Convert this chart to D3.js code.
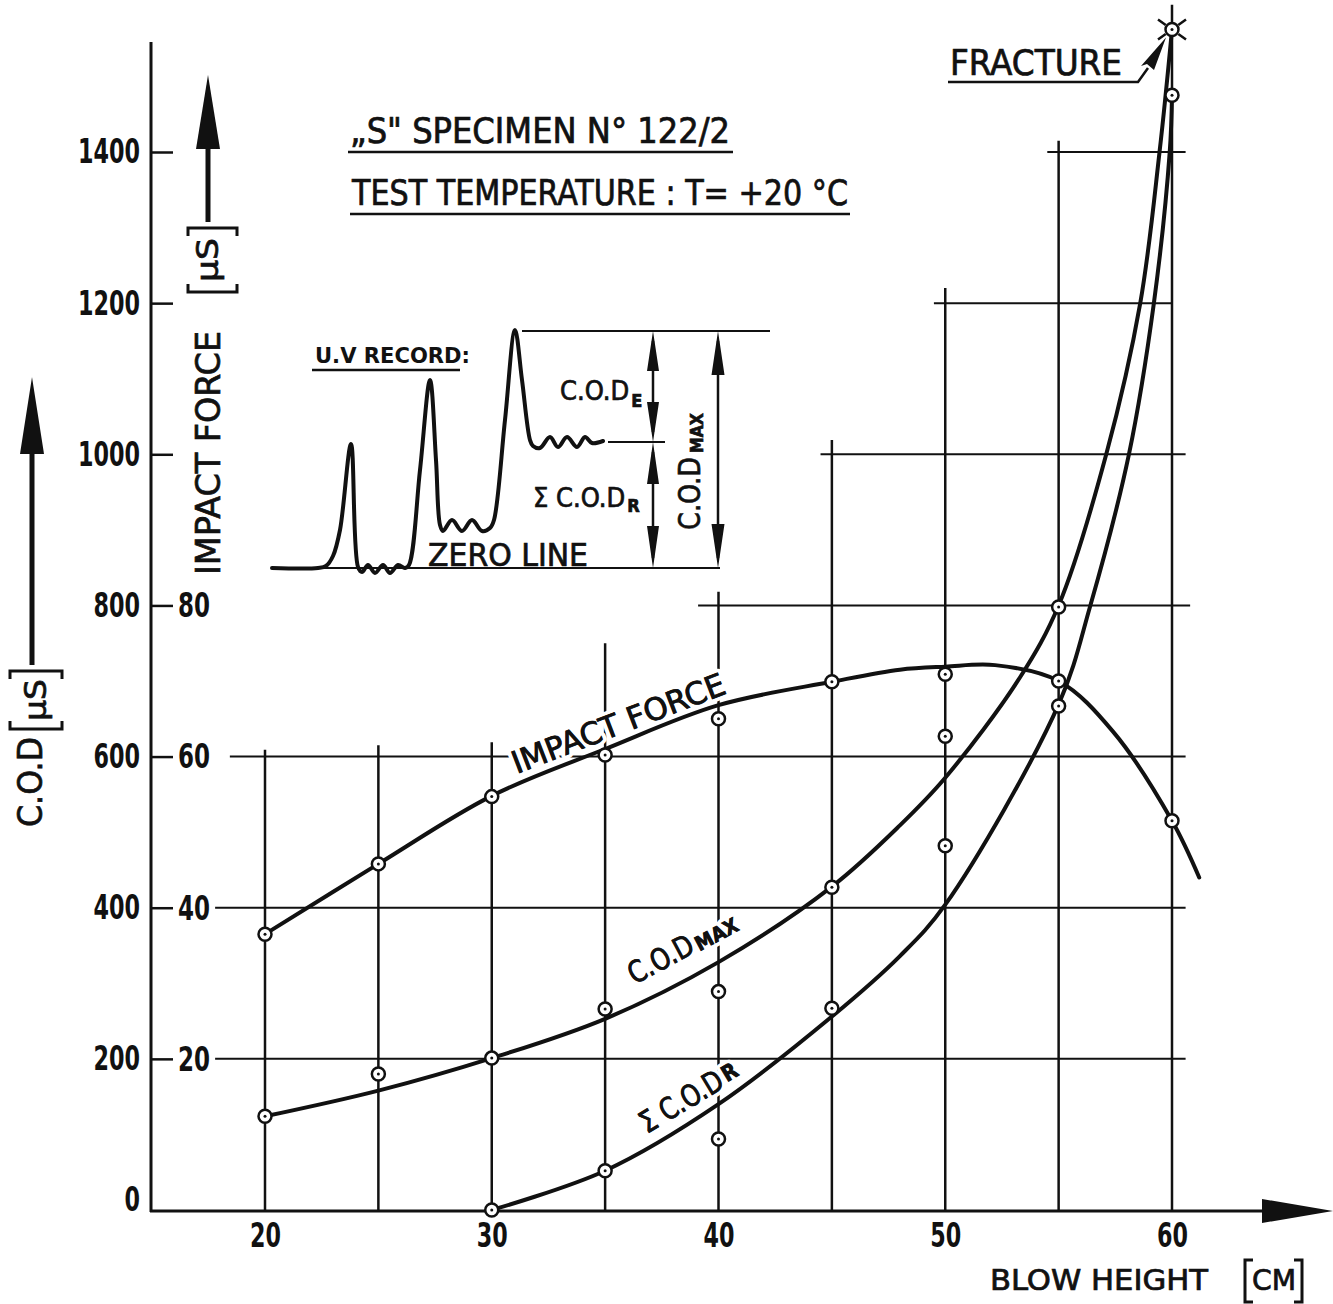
<!DOCTYPE html>
<html lang="en">
<head>
<meta charset="utf-8">
<title>S specimen 122/2 - C.O.D and impact force</title>
<script src="https://cdn.jsdelivr.net/npm/d3@7"></script>
<style>
  body { margin: 0; background: #fff; }
  svg { display: block; }
  text {
    font-family: "Liberation Sans Narrow", "DejaVu Sans Condensed", "Arial Narrow", sans-serif;
    fill: #111;
  }
  .ink { stroke: #111; fill: none; }
  .med { stroke: #111; stroke-width: 0.7; }
  .grid line { stroke: #111; stroke-width: 2; }
  .curve { fill: none; stroke: #111; stroke-width: 4; stroke-linecap: round; }
  .pt { fill: #fff; stroke: #111; stroke-width: 2.5; }
  .halo { paint-order: stroke; stroke: #fff; stroke-width: 8; stroke-linejoin: round; }
</style>
</head>
<body>
<svg id="chart" width="1333" height="1304"></svg>
<script>
// blow heights (cm)
const heights = [20, 25, 30, 35, 40, 45, 50, 55, 60];
// measured points
const impactForce = [36.5, 45.8, 54.7, 60.2, 65.0, 69.9, 70.9, 70.0, 51.5];
const codMax = [124, 180, 201, 266, 289, 427, 627, 798, null]; // at 60 cm -> fracture
const sumCodR = [null, null, 0, 52, 94, 267, 482, 667, 1475];
const fracture = [60, 1562];

// faired curves
const impactCurve = [[20, 36.5], [25, 45.8], [30, 54.8], [35, 61.0], [40, 66.8], [45, 69.9], [48, 71.5],
  [50, 71.9], [52.2, 72.1], [55, 70.0], [57.4, 63.3], [60, 51.5], [61.2, 44.0]];
const codMaxCurve = [[20, 124], [25, 158], [30, 201], [35, 253], [40, 328], [45, 428], [48, 509],
  [50, 572], [53.3, 705], [55, 800], [57.1, 1000], [58.6, 1200], [59.45, 1400], [60, 1562]];
const sumCodRCurve = [[30, 0], [35, 52], [40, 140], [45, 256], [48, 336], [50, 404], [55, 669],
  [56.4, 800], [58.1, 1000], [59.2, 1200], [59.9, 1400], [60, 1475]];

// ticks
const yTicks = [0, 200, 400, 600, 800, 1000, 1200, 1400];
const forceTicks = [20, 40, 60, 80];
const xTicks = [20, 30, 40, 50, 60];

// drafting grid (staircase): top of each vertical, span of each horizontal
const vGridTop = [609, 615, 619, 750, 818, 1019, 1220, 1415, 1595];
const hLevels = [200, 400, 600, 800, 1000, 1200, 1400];
const hFrom = [17.8, 17.8, 18.45, 39.1, 44.5, 49.5, 54.5];
const hTo = [60.6, 60.6, 60.6, 60.8, 60.6, 60.0, 60.6];

// U.V record sketch (arbitrary units: time, deflection)
const uvTrace = [[0, 0], [46, 0], [54, 2], [61, 12], [68, 38], [79, 124], [86, 1], [90, -4], [96, 3],
  [103, -5], [111, 3], [118, -5], [126, 3], [133, 0], [137, 3], [148, 98], [158, 188], [164, 108],
  [168, 43], [171, 37], [180, 48], [190, 37], [200, 48], [210, 37], [218, 40], [222, 48], [233, 148],
  [243, 238], [250, 188], [258, 128], [261, 122], [268, 120], [278, 131], [286, 121], [295, 131],
  [305, 121], [313, 131], [320, 125], [331, 127]];
const uvPeak = 237, uvResidual = 126;

const svg = d3.select('#chart');
const x = d3.scaleLinear().domain([20, 60]).range([265, 1172]);
const y = d3.scaleLinear().domain([0, 1400]).range([1210, 152]);
const yF = d3.scaleLinear().domain([0, 140]).range([1210, 152]);

// grid
const grid = svg.append('g').attr('class', 'grid');
grid.selectAll('line.v')
  .data(heights)
  .join('line')
  .attr('class', 'v')
  .attr('x1', d => x(d)).attr('x2', d => x(d))
  .attr('y1', y(0)).attr('y2', (d, i) => y(vGridTop[i]))
  .style('stroke-width', 2.5);
grid.selectAll('line.h')
  .data(hLevels)
  .join('line')
  .attr('class', 'h')
  .attr('x1', (d, i) => x(hFrom[i])).attr('x2', (d, i) => x(hTo[i]))
  .attr('y1', d => y(d)).attr('y2', d => y(d));

// axes
svg.append('line').attr('class', 'ink').attr('x1', 151).attr('x2', 151)
  .attr('y1', 42).attr('y2', 1212).style('stroke-width', 3);
svg.append('line').attr('class', 'ink').attr('x1', 150).attr('x2', 1266)
  .attr('y1', 1211).attr('y2', 1211).style('stroke-width', 3);
svg.append('path').attr('d', 'M1262,1199 L1333,1211 L1262,1223 Z').style('fill', '#111');

const yAxis = svg.append('g')
  .attr('transform', 'translate(151,0)')
  .call(d3.axisLeft(y).tickValues(yTicks).tickSize(-22).tickPadding(11).tickFormat(d3.format('d')));
yAxis.select('.domain').remove();
yAxis.selectAll('.tick line').style('stroke', '#111').style('stroke-width', 2.5);
yAxis.selectAll('.tick text')
  .style('font-size', '34px').style('font-weight', 'bold')
  .attr('textLength', d => String(d).length * 15.5)
  .attr('lengthAdjust', 'spacingAndGlyphs')
  .attr('y', d => d === 0 ? -10 : 0);
yAxis.selectAll('.tick').filter(d => d === 0).select('line').remove();

svg.append('g').selectAll('text')
  .data(forceTicks)
  .join('text')
  .attr('x', 178)
  .attr('y', d => yF(d))
  .attr('dy', '0.35em')
  .style('font-size', '34px').style('font-weight', 'bold')
  .attr('textLength', 32).attr('lengthAdjust', 'spacingAndGlyphs')
  .text(d => d);

const xAxis = svg.append('g')
  .attr('transform', 'translate(0,1211)')
  .call(d3.axisBottom(x).tickValues(xTicks).tickSize(0).tickPadding(13));
xAxis.select('.domain').remove();
xAxis.selectAll('.tick text')
  .style('font-size', '33px').style('font-weight', 'bold')
  .attr('textLength', 31).attr('lengthAdjust', 'spacingAndGlyphs');

// axis titles
svg.append('text').attr('class', 'med').attr('x', 990).attr('y', 1290)
  .style('font-size', '29px').attr('textLength', 218).attr('lengthAdjust', 'spacingAndGlyphs')
  .text('BLOW HEIGHT');
svg.append('text').attr('class', 'med').attr('x', 1252).attr('y', 1290)
  .style('font-size', '29px').attr('textLength', 44).attr('lengthAdjust', 'spacingAndGlyphs')
  .text('CM');
svg.append('path').attr('class', 'ink').style('stroke-width', 3)
  .attr('d', 'M1253,1260 H1245 V1302 H1253 M1294,1260 H1302 V1302 H1294');

function bracketBox(g, x0, x1, top, bot) {
  g.append('path').attr('class', 'ink').style('stroke-width', 3)
    .attr('d', `M${x0 + 8},${top} H${x0} V${bot} H${x0 + 8} M${x1 - 8},${top} H${x1} V${bot} H${x1 - 8}`);
}

// impact force axis title (vertical)
const fT = svg.append('g').attr('transform', 'translate(220,575) rotate(-90)');
fT.append('text').attr('class', 'med').attr('x', 0).attr('y', 0)
  .style('font-size', '33px').attr('textLength', 244).attr('lengthAdjust', 'spacingAndGlyphs')
  .text('IMPACT FORCE');
bracketBox(fT, 283, 347, -32, 17);
fT.append('text').attr('class', 'med').attr('x', 293).attr('y', -2)
  .style('font-size', '30px').attr('textLength', 44).attr('lengthAdjust', 'spacingAndGlyphs')
  .text('μS');
svg.append('line').attr('class', 'ink').style('stroke-width', 5)
  .attr('x1', 208).attr('x2', 208).attr('y1', 222).attr('y2', 145);
svg.append('path').style('fill', '#111').attr('d', 'M196,149 L220,149 L208,75 Z');

// C.O.D axis title (vertical)
const cT = svg.append('g').attr('transform', 'translate(42,827) rotate(-90)');
cT.append('text').attr('class', 'med').attr('x', 0).attr('y', 0)
  .style('font-size', '33px').attr('textLength', 90).attr('lengthAdjust', 'spacingAndGlyphs')
  .text('C.O.D');
bracketBox(cT, 98, 156, -32, 20);
cT.append('text').attr('class', 'med').attr('x', 106).attr('y', 4)
  .style('font-size', '30px').attr('textLength', 42).attr('lengthAdjust', 'spacingAndGlyphs')
  .text('μS');
svg.append('line').attr('class', 'ink').style('stroke-width', 5)
  .attr('x1', 32).attr('x2', 32).attr('y1', 665).attr('y2', 450);
svg.append('path').style('fill', '#111').attr('d', 'M20,454 L44,454 L32,377 Z');

// titles
const titles = [
  { text: '„S"  SPECIMEN  N°  122/2', x: 350, y: 143, len: 380, ux: [348, 733] },
  { text: 'TEST  TEMPERATURE : T= +20 °C', x: 352, y: 205, len: 496, ux: [350, 850] }
];
titles.forEach(t => {
  svg.append('text').attr('class', 'med').attr('x', t.x).attr('y', t.y)
    .style('font-size', '35px').attr('textLength', t.len).attr('lengthAdjust', 'spacingAndGlyphs')
    .text(t.text);
  svg.append('line').attr('class', 'ink').style('stroke-width', 2.5)
    .attr('x1', t.ux[0]).attr('x2', t.ux[1]).attr('y1', t.y + 9).attr('y2', t.y + 9);
});

// label with optional subscript, as one text element
function subText(g, cls, px, py, main, sub) {
  const t = g.append('text').attr('class', cls).attr('x', px).attr('y', py);
  const m = t.append('tspan').style('font-size', main.size + 'px').text(main.text);
  if (main.len) m.attr('textLength', main.len).attr('lengthAdjust', 'spacingAndGlyphs');
  if (sub) {
    const s = t.append('tspan').attr('dx', sub.dx).attr('dy', sub.dy)
      .style('font-size', sub.size + 'px').style('font-weight', 'bold').text(sub.text);
    if (sub.len) s.attr('textLength', sub.len).attr('lengthAdjust', 'spacingAndGlyphs');
  }
  return t;
}

// curve labels (white halo breaks the grid like the drawing)
function curveLabel(px, py, angle, main, sub) {
  const g = svg.append('g').attr('transform', `translate(${px},${py}) rotate(${angle})`);
  subText(g, 'halo', 0, 0, main, sub);
  subText(g, 'med', 0, 0, main, sub);
}
curveLabel(x(31.1), yF(56.5) - 9, -21, { text: 'IMPACT  FORCE', size: 31, len: 226 });
curveLabel(x(36.3), y(298), -28,
  { text: 'C.O.D', size: 30, len: 70 }, { text: 'MAX', dx: 3, dy: 1, size: 20, len: 46 });
curveLabel(x(36.85), y(100.6), -31,
  { text: 'Σ C.O.D', size: 30, len: 92 }, { text: 'R', dx: 3, dy: -3, size: 22, len: 15 });

// curves
const line = d3.line().curve(d3.curveCatmullRom.alpha(0.5));
svg.append('path').attr('class', 'curve')
  .attr('d', line(impactCurve.map(d => [x(d[0]), yF(d[1])])));
svg.append('path').attr('class', 'curve')
  .attr('d', line(codMaxCurve.map(d => [x(d[0]), y(d[1])])));
svg.append('path').attr('class', 'curve')
  .attr('d', line(sumCodRCurve.map(d => [x(d[0]), y(d[1])])));

// measured points
const pts = [];
heights.forEach((h, i) => {
  pts.push([x(h), yF(impactForce[i])]);
  if (codMax[i] !== null) pts.push([x(h), y(codMax[i])]);
  if (sumCodR[i] !== null) pts.push([x(h), y(sumCodR[i])]);
});
pts.push([x(fracture[0]), y(fracture[1])]);
const ptG = svg.append('g');
ptG.selectAll('circle.pt').data(pts).join('circle').attr('class', 'pt')
  .attr('cx', d => d[0]).attr('cy', d => d[1]).attr('r', 6.5);
ptG.selectAll('circle.dot').data(pts).join('circle').attr('class', 'dot')
  .attr('cx', d => d[0]).attr('cy', d => d[1]).attr('r', 1.5).style('fill', '#111');

// fracture star + label
const fx = x(fracture[0]), fy = y(fracture[1]);
svg.append('path').attr('class', 'ink').style('stroke-width', 2.5)
  .attr('d', [[-14, -10], [14, -10], [-14, 10], [14, 10]]
    .map(o => `M${fx + o[0] * 0.45},${fy + o[1] * 0.45} L${fx + o[0]},${fy + o[1]}`).join(' '));
svg.append('text').attr('class', 'med').attr('x', 950).attr('y', 75)
  .style('font-size', '35px').attr('textLength', 172).attr('lengthAdjust', 'spacingAndGlyphs')
  .text('FRACTURE');
svg.append('path').attr('class', 'ink').style('stroke-width', 2.5)
  .attr('d', `M948,82 H1138 L1148,68`);
svg.append('path').style('fill', '#111')
  .attr('d', `M1141,66 L${fx - 6},${fy + 8} L1154,70 L1147,64 Z`);

// U.V record inset
const uvX = d3.scaleLinear().domain([0, 448]).range([272, 720]);
const uvY = d3.scaleLinear().domain([0, 238]).range([568, 330]);
const inset = svg.append('g');
inset.append('text').attr('x', 315).attr('y', 363)
  .style('font-size', '21px').style('font-weight', 'bold')
  .attr('textLength', 155).attr('lengthAdjust', 'spacingAndGlyphs')
  .text('U.V  RECORD:');
inset.append('line').attr('class', 'ink').style('stroke-width', 2.5)
  .attr('x1', 312).attr('x2', 460).attr('y1', 370).attr('y2', 370);

inset.append('line').attr('class', 'ink').style('stroke-width', 2)
  .attr('x1', uvX(0)).attr('x2', uvX(448)).attr('y1', uvY(0)).attr('y2', uvY(0));
inset.append('line').attr('class', 'ink').style('stroke-width', 2)
  .attr('x1', uvX(250)).attr('x2', uvX(498)).attr('y1', uvY(uvPeak)).attr('y2', uvY(uvPeak));
inset.append('line').attr('class', 'ink').style('stroke-width', 2)
  .attr('x1', uvX(336)).attr('x2', uvX(393)).attr('y1', uvY(uvResidual)).attr('y2', uvY(uvResidual));
inset.append('path').attr('class', 'curve').style('stroke-width', 4).style('stroke-linejoin', 'round')
  .attr('d', d3.line().x(d => uvX(d[0])).y(d => uvY(d[1])).curve(d3.curveCatmullRom.alpha(0.5))(uvTrace));

function dblArrow(g, ax, ya, yb, len, w) {
  g.append('line').attr('class', 'ink').style('stroke-width', 2.5)
    .attr('x1', ax).attr('x2', ax).attr('y1', ya + 10).attr('y2', yb - 10);
  g.append('path').style('fill', '#111')
    .attr('d', `M${ax},${ya} L${ax - w / 2},${ya + len} L${ax + w / 2},${ya + len} Z
                M${ax},${yb} L${ax - w / 2},${yb - len} L${ax + w / 2},${yb - len} Z`);
}
dblArrow(inset, uvX(381), uvY(uvPeak), uvY(uvResidual), 40, 12);
dblArrow(inset, uvX(381), uvY(uvResidual), uvY(0), 42, 12);
dblArrow(inset, uvX(446), uvY(uvPeak), uvY(0), 44, 13);

subText(inset, 'med', 560, 400, { text: 'C.O.D', size: 27 }, { text: 'E', dx: 2, dy: 7, size: 18 });
subText(inset, 'med', 533, 507, { text: 'Σ C.O.D', size: 27 }, { text: 'R', dx: 2, dy: 5, size: 18 });
inset.append('text').attr('class', 'med').attr('x', 428).attr('y', 566)
  .style('font-size', '32px').attr('textLength', 160).attr('lengthAdjust', 'spacingAndGlyphs')
  .text('ZERO  LINE');
const cm = inset.append('g').attr('transform', 'translate(700,530) rotate(-90)');
subText(cm, 'med', 0, 0, { text: 'C.O.D', size: 31, len: 73 }, { text: 'MAX', dx: 4, dy: 3, size: 18, len: 40 });
</script>
</body>
</html>
